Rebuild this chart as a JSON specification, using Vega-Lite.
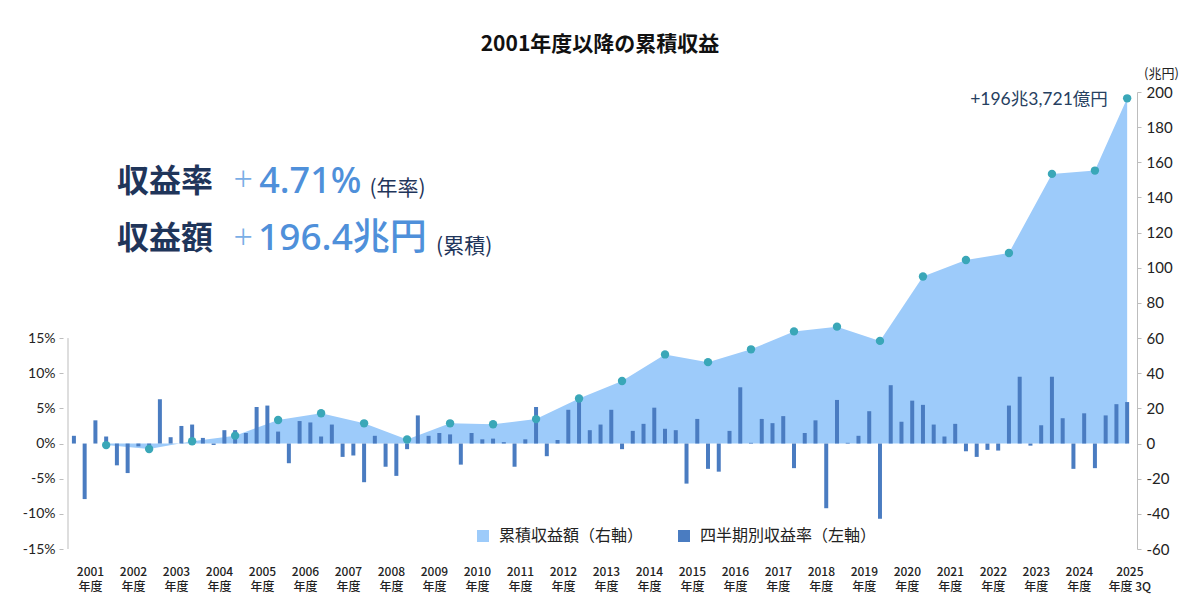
{
  "$schema": "https://vega.github.io/schema/vega-lite/v6.json",
  "width": 1074,
  "height": 457,
  "autosize": {"type": "none"},
  "padding": {"left": 63, "top": 92, "right": 63, "bottom": 67},
  "background": "white",
  "title": {
    "text": "2001年度以降の累積収益",
    "font": "Noto Sans CJK JP",
    "fontSize": 21,
    "fontWeight": "bold",
    "color": "#111111",
    "anchor": "middle",
    "offset": 12
  },
  "datasets": {
    "quarters": [
      {"q": 0, "rate": 1.1}, {"q": 1, "rate": -7.9}, {"q": 2, "rate": 3.3}, {"q": 3, "rate": 1.0},
      {"q": 4, "rate": -3.1}, {"q": 5, "rate": -4.2}, {"q": 6, "rate": -0.4}, {"q": 7, "rate": -0.9},
      {"q": 8, "rate": 6.3}, {"q": 9, "rate": 0.9}, {"q": 10, "rate": 2.5}, {"q": 11, "rate": 2.7},
      {"q": 12, "rate": 0.8}, {"q": 13, "rate": -0.2}, {"q": 14, "rate": 1.9}, {"q": 15, "rate": 1.9},
      {"q": 16, "rate": 1.5}, {"q": 17, "rate": 5.2}, {"q": 18, "rate": 5.4}, {"q": 19, "rate": 1.7},
      {"q": 20, "rate": -2.8}, {"q": 21, "rate": 3.2}, {"q": 22, "rate": 3.0}, {"q": 23, "rate": 1.0},
      {"q": 24, "rate": 2.7}, {"q": 25, "rate": -1.9}, {"q": 26, "rate": -1.7}, {"q": 27, "rate": -5.5},
      {"q": 28, "rate": 1.1}, {"q": 29, "rate": -3.3}, {"q": 30, "rate": -4.6}, {"q": 31, "rate": -0.8},
      {"q": 32, "rate": 4.0}, {"q": 33, "rate": 1.1}, {"q": 34, "rate": 1.5}, {"q": 35, "rate": 1.3},
      {"q": 36, "rate": -3.0}, {"q": 37, "rate": 1.5}, {"q": 38, "rate": 0.6}, {"q": 39, "rate": 0.7},
      {"q": 40, "rate": 0.2}, {"q": 41, "rate": -3.3}, {"q": 42, "rate": 0.6}, {"q": 43, "rate": 5.2},
      {"q": 44, "rate": -1.8}, {"q": 45, "rate": 0.5}, {"q": 46, "rate": 4.8}, {"q": 47, "rate": 6.4},
      {"q": 48, "rate": 1.9}, {"q": 49, "rate": 2.7}, {"q": 50, "rate": 4.8}, {"q": 51, "rate": -0.8},
      {"q": 52, "rate": 1.8}, {"q": 53, "rate": 2.8}, {"q": 54, "rate": 5.1}, {"q": 55, "rate": 2.1},
      {"q": 56, "rate": 1.9}, {"q": 57, "rate": -5.7}, {"q": 58, "rate": 3.5}, {"q": 59, "rate": -3.6},
      {"q": 60, "rate": -4.0}, {"q": 61, "rate": 1.8}, {"q": 62, "rate": 8.0}, {"q": 63, "rate": 0.1},
      {"q": 64, "rate": 3.5}, {"q": 65, "rate": 2.9}, {"q": 66, "rate": 3.9}, {"q": 67, "rate": -3.5},
      {"q": 68, "rate": 1.5}, {"q": 69, "rate": 3.3}, {"q": 70, "rate": -9.2}, {"q": 71, "rate": 6.2},
      {"q": 72, "rate": 0.1}, {"q": 73, "rate": 1.1}, {"q": 74, "rate": 4.6}, {"q": 75, "rate": -10.7},
      {"q": 76, "rate": 8.3}, {"q": 77, "rate": 3.1}, {"q": 78, "rate": 6.1}, {"q": 79, "rate": 5.5},
      {"q": 80, "rate": 2.7}, {"q": 81, "rate": 1.0}, {"q": 82, "rate": 2.8}, {"q": 83, "rate": -1.1},
      {"q": 84, "rate": -1.9}, {"q": 85, "rate": -0.9}, {"q": 86, "rate": -1.0}, {"q": 87, "rate": 5.4},
      {"q": 88, "rate": 9.5}, {"q": 89, "rate": -0.3}, {"q": 90, "rate": 2.6}, {"q": 91, "rate": 9.5},
      {"q": 92, "rate": 3.6}, {"q": 93, "rate": -3.6}, {"q": 94, "rate": 4.3}, {"q": 95, "rate": -3.5},
      {"q": 96, "rate": 4.0}, {"q": 97, "rate": 5.6}, {"q": 98, "rate": 5.9}
    ],
    "cumulative": [
      {"q": 3, "cum": -0.9}, {"q": 7, "cum": -3.1}, {"q": 11, "cum": 1.3}, {"q": 15, "cum": 4.5},
      {"q": 19, "cum": 13.4}, {"q": 23, "cum": 17.2}, {"q": 27, "cum": 11.5}, {"q": 31, "cum": 2.3},
      {"q": 35, "cum": 11.5}, {"q": 39, "cum": 11.0}, {"q": 43, "cum": 13.9}, {"q": 47, "cum": 25.6},
      {"q": 51, "cum": 35.6}, {"q": 55, "cum": 50.7}, {"q": 59, "cum": 46.3}, {"q": 63, "cum": 53.6},
      {"q": 67, "cum": 63.8}, {"q": 71, "cum": 66.5}, {"q": 75, "cum": 58.4}, {"q": 79, "cum": 95.0},
      {"q": 83, "cum": 104.4}, {"q": 87, "cum": 108.4}, {"q": 91, "cum": 153.4}, {"q": 95, "cum": 155.3},
      {"q": 98, "cum": 196.4}
    ]
  },
  "layer": [
    {
      "data": {"name": "cumulative"},
      "mark": {"type": "area", "opacity": 1, "interpolate": "linear"},
      "encoding": {
        "x": {
          "field": "q",
          "type": "quantitative",
          "scale": {"domain": [-0.55, 98.45], "nice": false, "zero": false},
          "axis": {
            "values": [1.5, 5.5, 9.5, 13.5, 17.5, 21.5, 25.5, 29.5, 33.5, 37.5, 41.5, 45.5, 49.5, 53.5, 57.5, 61.5, 65.5, 69.5, 73.5, 77.5, 81.5, 85.5, 89.5, 93.5, 98.2],
            "labelExpr": "datum.value > 97 ? ['2025', '年度 3Q'] : ['' + (2001 + floor(datum.value / 4)), '年度']",
            "title": null,
            "domain": false,
            "ticks": false,
            "grid": false,
            "labelFont": "Noto Sans CJK JP",
            "labelFontSize": 12,
            "labelFontWeight": 500,
            "labelLineHeight": 15,
            "labelPadding": 17,
            "labelBaseline": "top",
            "labelColor": "#222222",
            "labelOverlap": false,
            "labelFlush": false
          }
        },
        "y": {
          "field": "cum",
          "type": "quantitative",
          "scale": {"domain": [-60, 200], "nice": false},
          "axis": {
            "orient": "right",
            "values": [-60, -40, -20, 0, 20, 40, 60, 80, 100, 120, 140, 160, 180, 200],
            "labelExpr": "'' + datum.value",
            "title": "(兆円)",
            "titleAngle": 0,
            "titleX": 24,
            "titleY": -19,
            "titleAlign": "center",
            "titleBaseline": "middle",
            "titleFont": "Noto Sans CJK JP",
            "titleFontSize": 13,
            "titleFontWeight": "normal",
            "titleColor": "#222222",
            "grid": false,
            "domainColor": "#bdbdbd",
            "tickColor": "#bdbdbd",
            "tickSize": 4,
            "labelFont": "Lato",
            "labelFontSize": 15,
            "labelColor": "#222222",
            "labelPadding": 5
          }
        },
        "color": {
          "datum": "累積収益額（右軸）",
          "type": "nominal",
          "scale": {
            "domain": ["累積収益額（右軸）", "四半期別収益率（左軸）"],
            "range": ["#9dcbfa", "#4a7cc1"]
          },
          "legend": {
            "orient": "none",
            "legendX": 412,
            "legendY": 436,
            "direction": "horizontal",
            "title": null,
            "padding": 0,
            "symbolType": "square",
            "symbolSize": 144,
            "symbolStrokeWidth": 0,
            "labelFont": "Noto Sans CJK JP",
            "labelFontSize": 16,
            "labelColor": "#222222",
            "labelOffset": 8,
            "labelLimit": 300,
            "columnPadding": 32
          }
        }
      }
    },
    {
      "layer": [
        {
          "data": {"name": "quarters"},
          "mark": {"type": "bar", "orient": "vertical", "size": 4},
          "encoding": {
            "x": {"field": "q", "type": "quantitative"},
            "y": {
              "field": "rate",
              "type": "quantitative",
              "scale": {"domain": [-15, 50], "nice": false},
              "axis": {
                "orient": "left",
                "values": [-15, -10, -5, 0, 5, 10, 15],
                "labelExpr": "datum.value + '%'",
                "title": null,
                "grid": false,
                "domain": false,
                "tickColor": "#bdbdbd",
                "tickSize": 4,
                "labelFont": "Lato",
                "labelFontSize": 14,
                "labelColor": "#222222",
                "labelPadding": 4
              }
            },
            "color": {
              "datum": "四半期別収益率（左軸）",
              "type": "nominal",
              "scale": {
                "domain": ["累積収益額（右軸）", "四半期別収益率（左軸）"],
                "range": ["#9dcbfa", "#4a7cc1"]
              }
            }
          }
        },
        {
          "data": {"values": [{"axis": "left"}]},
          "mark": {"type": "rule", "color": "#bdbdbd", "strokeWidth": 1},
          "encoding": {
            "x": {"datum": -0.55},
            "y": {"datum": -15},
            "y2": {"datum": 15}
          }
        }
      ]
    },
    {
      "layer": [
        {
          "data": {"name": "cumulative"},
          "mark": {"type": "point", "filled": true, "size": 70, "opacity": 1, "color": "#3aa7b8"},
          "encoding": {
            "x": {"field": "q", "type": "quantitative"},
            "y": {"field": "cum", "type": "quantitative", "scale": {"domain": [-60, 200], "nice": false}, "axis": null}
          }
        },
        {
          "data": {"values": [{"label": "+196兆3,721億円"}]},
          "mark": {"type": "text", "align": "right", "baseline": "middle", "font": "Lato, Noto Sans CJK JP", "fontSize": 17.5, "color": "#26405f"},
          "encoding": {"x": {"datum": 96.2}, "y": {"datum": 195.3}, "text": {"field": "label"}}
        },
        {
          "data": {"values": [{"label": "収益率"}]},
          "mark": {"type": "text", "align": "left", "baseline": "middle", "font": "Noto Sans CJK JP", "fontSize": 32, "fontWeight": "bold", "color": "#1f355a"},
          "encoding": {"x": {"datum": 4.0}, "y": {"datum": 148.8}, "text": {"field": "label"}}
        },
        {
          "data": {"values": [{"label": "+"}]},
          "mark": {"type": "text", "align": "center", "baseline": "middle", "font": "Noto Sans", "fontSize": 34, "fontWeight": 300, "color": "#7aaee6"},
          "encoding": {"x": {"datum": 15.76}, "y": {"datum": 149.3}, "text": {"field": "label"}}
        },
        {
          "data": {"values": [{"label": "4.71%"}]},
          "mark": {"type": "text", "align": "left", "baseline": "middle", "font": "Noto Sans", "fontSize": 36, "fontWeight": 500, "color": "#4f90da"},
          "encoding": {"x": {"datum": 17.24}, "y": {"datum": 148.8}, "text": {"field": "label"}}
        },
        {
          "data": {"values": [{"label": "(年率)"}]},
          "mark": {"type": "text", "align": "left", "baseline": "middle", "font": "Noto Sans CJK JP", "fontSize": 21, "color": "#1f355a"},
          "encoding": {"x": {"datum": 27.5}, "y": {"datum": 144.8}, "text": {"field": "label"}}
        },
        {
          "data": {"values": [{"label": "収益額"}]},
          "mark": {"type": "text", "align": "left", "baseline": "middle", "font": "Noto Sans CJK JP", "fontSize": 32, "fontWeight": "bold", "color": "#1f355a"},
          "encoding": {"x": {"datum": 4.0}, "y": {"datum": 116.1}, "text": {"field": "label"}}
        },
        {
          "data": {"values": [{"label": "+"}]},
          "mark": {"type": "text", "align": "center", "baseline": "middle", "font": "Noto Sans", "fontSize": 34, "fontWeight": 300, "color": "#7aaee6"},
          "encoding": {"x": {"datum": 15.76}, "y": {"datum": 116.6}, "text": {"field": "label"}}
        },
        {
          "data": {"values": [{"label": "196.4兆円"}]},
          "mark": {"type": "text", "align": "left", "baseline": "middle", "font": "Noto Sans, Noto Sans CJK JP", "fontSize": 37, "fontWeight": 500, "color": "#4f90da"},
          "encoding": {"x": {"datum": 17.14}, "y": {"datum": 116.1}, "text": {"field": "label"}}
        },
        {
          "data": {"values": [{"label": "(累積)"}]},
          "mark": {"type": "text", "align": "left", "baseline": "middle", "font": "Noto Sans CJK JP", "fontSize": 21, "color": "#1f355a"},
          "encoding": {"x": {"datum": 33.7}, "y": {"datum": 112.0}, "text": {"field": "label"}}
        }
      ]
    }
  ],
  "resolve": {"scale": {"y": "independent"}, "axis": {"y": "independent"}},
  "config": {
    "view": {"stroke": null},
    "font": "Noto Sans CJK JP",
    "axis": {"grid": false}
  }
}
